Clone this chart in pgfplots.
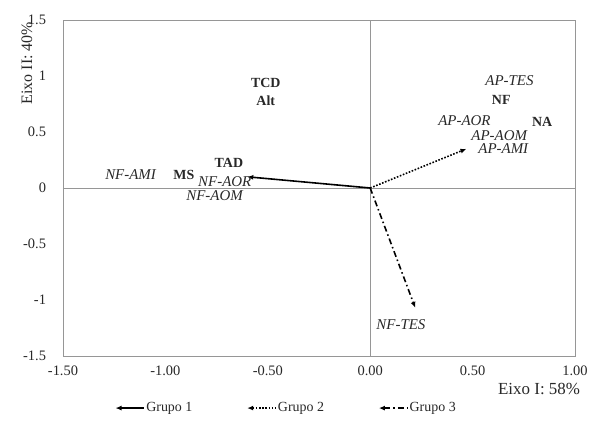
\documentclass[border=0pt]{standalone}
\usepackage{fontspec}
\setmainfont{Liberation Serif}
\usepackage{pgfplots}
\pgfplotsset{compat=1.18}
\usetikzlibrary{arrows.meta}
\definecolor{framegray}{RGB}{150,150,150}
\definecolor{txt}{RGB}{40,40,40}
\begin{document}
\fontsize{14.5}{16}\selectfont
\begin{tikzpicture}
\begin{axis}[
  scale only axis,
  width=512bp, height=336bp,
  xmin=-1.5, xmax=1.0, ymin=-1.5, ymax=1.5,
  xtick={-1.5,-1,-0.5,0,0.5,1},
  ytick={-1.5,-1,-0.5,0,0.5,1,1.5},
  major tick length=0pt,
  axis line style={framegray, line width=0.8pt},
  /pgf/number format/assume math mode=true,
  xticklabel style={/pgf/number format/.cd, fixed, fixed zerofill, precision=2, /tikz/.cd, yshift=-5bp, text=txt, font=\fontsize{14.5}{16}\selectfont},
  yticklabel style={/pgf/number format/.cd, fixed, precision=1, /tikz/.cd, xshift=-12bp, text=txt, font=\fontsize{14.5}{16}\selectfont},
  xlabel={Eixo I: 58\%},
  xlabel style={at={(rel axis cs:1,0)}, anchor=north east, yshift=-22bp, xshift=10bp, text=txt, font=\fontsize{17}{19}\selectfont},
  ylabel={Eixo II: 40\%},
  ylabel style={at={(rel axis cs:0,0.872)}, anchor=center, yshift=36bp, text=txt, font=\fontsize{16}{18}\selectfont},
  legend style={at={(0.436,-0.155)}, anchor=center, draw=none, legend columns=3,
    /tikz/every even column/.append style={column sep=52bp}, font=\fontsize{14}{16}\selectfont, text=txt,
    /tikz/every odd column/.append style={column sep=0bp}},
  legend image code/.code={\draw[#1,{Latex[length=6bp,width=5bp]}-] (0bp,0bp) -- (28bp,0bp);},
  clip=false,
]
\coordinate (ll) at (rel axis cs:0,0);
\coordinate (ur) at (rel axis cs:1,1);
\draw[framegray, line width=0.8pt] (axis cs:-1.5,0) -- (axis cs:1,0);
\draw[framegray, line width=0.8pt] (axis cs:0,-1.5) -- (axis cs:0,1.5);
\addplot[black, line width=1.6pt, -{Latex[length=6bp,width=5bp]}] coordinates {(0,0) (-0.60,0.10)};
\addlegendentry{Grupo 1}
\addplot[black, line width=1.6pt, dash pattern=on 1.6bp off 1.6bp, -{Latex[length=6bp,width=5bp]}] coordinates {(0,0) (0.47,0.35)};
\addlegendentry{Grupo 2}
\addplot[black, line width=1.6pt, dash pattern=on 6bp off 3bp on 1.5bp off 3bp, -{Latex[length=6bp,width=5bp]}] coordinates {(0,0) (0.22,-1.07)};
\addlegendentry{Grupo 3}
\begin{scope}[every node/.style={text=txt}]
\node[font=\fontsize{14}{16}\selectfont\bfseries] at (axis cs:-0.51,0.94) {TCD};
\node[font=\fontsize{14}{16}\selectfont\bfseries] at (axis cs:-0.51,0.78) {Alt};
\node[font=\fontsize{14}{16}\selectfont\bfseries] at (axis cs:-0.69,0.22) {TAD};
\node[font=\fontsize{14}{16}\selectfont\bfseries] at (axis cs:-0.91,0.12) {MS};
\node[font=\fontsize{15}{16}\selectfont\itshape] at (axis cs:-1.17,0.12) {NF-AMI};
\node[font=\fontsize{15}{16}\selectfont\itshape] at (axis cs:-0.71,0.055) {NF-AOR};
\node[font=\fontsize{15}{16}\selectfont\itshape] at (axis cs:-0.76,-0.07) {NF-AOM};
\node[font=\fontsize{15}{16}\selectfont\itshape] at (axis cs:0.68,0.96) {AP-TES};
\node[font=\fontsize{14}{16}\selectfont\bfseries] at (axis cs:0.64,0.79) {NF};
\node[font=\fontsize{15}{16}\selectfont\itshape] at (axis cs:0.46,0.60) {AP-AOR};
\node[font=\fontsize{14}{16}\selectfont\bfseries] at (axis cs:0.84,0.59) {NA};
\node[font=\fontsize{15}{16}\selectfont\itshape] at (axis cs:0.63,0.47) {AP-AOM};
\node[font=\fontsize{15}{16}\selectfont\itshape] at (axis cs:0.65,0.35) {AP-AMI};
\node[font=\fontsize{15}{16}\selectfont\itshape] at (axis cs:0.15,-1.22) {NF-TES};
\end{scope}
\end{axis}
\pgfresetboundingbox
\path ([shift={(-63bp,-70bp)}]ll) rectangle ([shift={(14bp,20bp)}]ur);
\end{tikzpicture}
\end{document}
